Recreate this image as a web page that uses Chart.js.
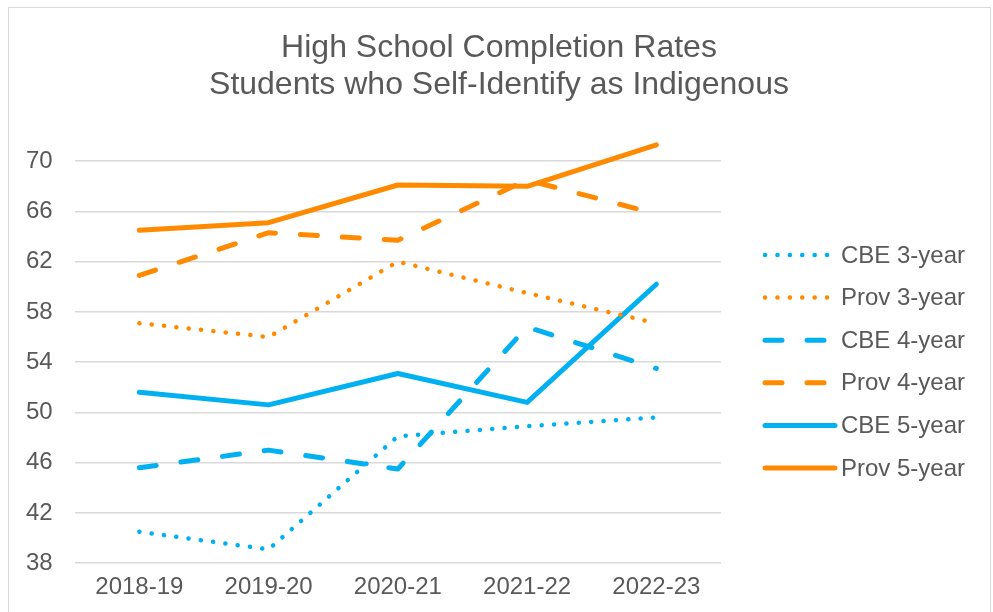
<!DOCTYPE html>
<html>
<head>
<meta charset="utf-8">
<script src="https://cdn.jsdelivr.net/npm/chart.js@4.4.1/dist/chart.umd.min.js"></script>
<style>
  html, body { margin: 0; padding: 0; background: #fff; }
  #wrap { position: relative; width: 993px; height: 612px; overflow: hidden; }
  #frame { position: absolute; left: 8px; top: 7px; width: 981px; height: 700px;
           border: 1px solid #d9d9d9; pointer-events: none; }
</style>
</head>
<body>
<div id="wrap">
  <canvas id="rateChart" width="993" height="612"></canvas>
  <div id="frame"></div>
</div>
<script>
const years = ['2018-19', '2019-20', '2020-21', '2021-22', '2022-23'];
const cbe3 = [40.5, 39.1, 48.1, 48.9, 49.6];
const prov3 = [57.1, 56.0, 62.0, 59.5, 57.1];
const cbe4 = [45.6, 47.0, 45.5, 56.8, 53.5];
const prov4 = [60.9, 64.3, 63.7, 68.5, 65.8];
const cbe5 = [51.6, 50.6, 53.1, 50.8, 60.2];
const prov5 = [64.5, 65.1, 68.1, 68.0, 71.3];
const yTicks = [38, 42, 46, 50, 54, 58, 62, 66, 70];
const titleLines = ['High School Completion Rates', 'Students who Self-Identify as Indigenous'];

const BLUE = '#00b0f0';
const ORANGE = '#ff8a00';
const TEXT = '#595959';
const FONT = '"Liberation Sans", Arial, sans-serif';

const DOT = [0.1, 12.3];
const DASH = [17, 25];

function line(label, data, color, dash, width) {
    return {
        label: label,
        data: data,
        borderColor: color,
        backgroundColor: color,
        borderWidth: width,
        borderDash: dash,
        borderCapStyle: 'round',
        borderJoinStyle: 'round',
        pointRadius: 0,
        pointHoverRadius: 0,
        tension: 0,
        fill: false
    };
}

// title centred on the whole frame, not just the plot + legend box
const frameTitle = {
    id: 'frameTitle',
    afterDraw(chart) {
        const c = chart.ctx;
        c.save();
        c.fillStyle = TEXT;
        c.font = '32px ' + FONT;
        c.textAlign = 'center';
        c.textBaseline = 'middle';
        titleLines.forEach((t, i) => c.fillText(t, 499, 48 + i * 37));
        c.restore();
    }
};

// legend drawn as line samples to the right of the plot
const lineLegend = {
    id: 'lineLegend',
    afterDraw(chart) {
        const c = chart.ctx;
        const area = chart.chartArea;
        const x0 = area.right + 42;
        const x1 = x0 + 72;
        let y = 255;
        c.save();
        chart.data.datasets.forEach(ds => {
            c.beginPath();
            c.strokeStyle = ds.borderColor;
            c.lineWidth = ds.borderWidth;
            c.lineCap = 'round';
            c.setLineDash(ds.borderDash);
            c.moveTo(x0 + 2, y);
            c.lineTo(x1, y);
            c.stroke();
            c.setLineDash([]);
            c.fillStyle = TEXT;
            c.font = '24px ' + FONT;
            c.textBaseline = 'middle';
            c.textAlign = 'left';
            c.fillText(ds.label, x1 + 6, y + 1);
            y += 42.6;
        });
        c.restore();
    }
};

new Chart(document.getElementById('rateChart'), {
    type: 'line',
    data: {
        labels: years,
        datasets: [
            line('CBE 3-year', cbe3, BLUE, DOT, 4.5),
            line('Prov 3-year', prov3, ORANGE, DOT, 4.5),
            line('CBE 4-year', cbe4, BLUE, DASH, 5),
            line('Prov 4-year', prov4, ORANGE, DASH, 5),
            line('CBE 5-year', cbe5, BLUE, [], 5),
            line('Prov 5-year', prov5, ORANGE, [], 5)
        ]
    },
    options: {
        responsive: false,
        animation: false,
        layout: {
            padding: { left: 4, right: 272, top: 136, bottom: 0 }
        },
        plugins: {
            legend: { display: false },
            tooltip: { enabled: false },
            title: { display: false }
        },
        scales: {
            x: {
                offset: true,
                grid: { display: false, drawTicks: false },
                border: { display: false },
                ticks: {
                    color: TEXT,
                    padding: 10,
                    font: { family: FONT, size: 24 }
                }
            },
            y: {
                min: 38,
                max: 72,
                afterBuildTicks: axis => {
                    axis.ticks = yTicks.map(v => ({ value: v }));
                },
                grid: { color: '#d9d9d9', lineWidth: 1.5, drawTicks: false },
                border: { display: false },
                ticks: {
                    color: TEXT,
                    padding: 22,
                    font: { family: FONT, size: 24 }
                }
            }
        }
    },
    plugins: [frameTitle, lineLegend]
});
</script>
</body>
</html>
